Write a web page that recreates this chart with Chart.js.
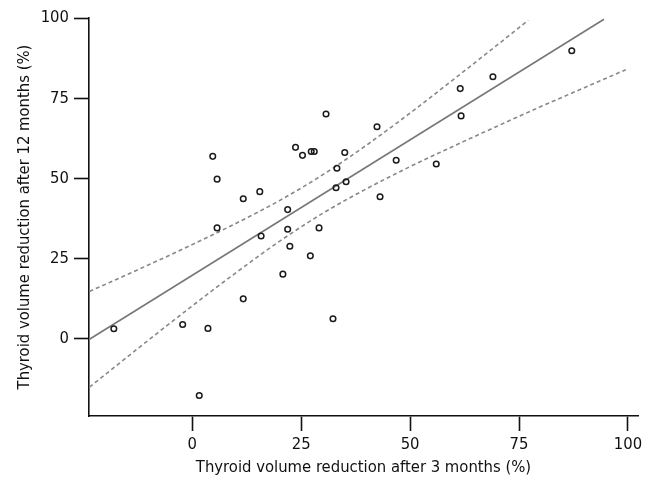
<!DOCTYPE html>
<html>
<head>
<meta charset="utf-8">
<script src="https://cdn.jsdelivr.net/npm/chart.js@4"></script>
<style>
  body { margin: 0; background: #fff; }
  #wrap { width: 653px; height: 481px; }
</style>
</head>
<body>
<div id="wrap"><canvas id="thyroid" width="653" height="481"></canvas></div>
<script>
// volume reduction after 3 months (x) and after 12 months (y), one pair per patient
const months3 = [-18.0, -2.2, 3.6, 1.6, 4.7, 5.7, 5.7, 11.7, 11.7, 15.5, 15.8, 20.8, 21.9, 21.9, 22.4, 23.7, 25.3, 27.3,
  28.0, 29.1, 27.1, 30.7, 32.3, 33.2, 33.0, 35.0, 35.3, 42.4, 43.1, 46.8, 56.0, 61.5, 61.7, 69.0, 87.1];
const months12 = [3.2, 4.5, 3.3, -17.6, 56.9, 49.8, 34.6, 43.7, 12.5, 45.9, 32.1, 20.2, 40.3, 34.2, 28.9, 59.7, 57.2, 58.4,
  58.4, 34.6, 25.9, 70.1, 6.3, 53.2, 47.1, 58.1, 49.0, 66.1, 44.3, 55.7, 54.5, 78.0, 69.5, 81.7, 89.8];

// regression line ends
const fitX = [-23.6, 94.5];
const fitY = [-0.1, 99.6];

// 95% confidence band
const upperX = [-23.6, -10, 0, 10, 20, 30, 40, 50, 60, 70, 77.1];
const upperY = [14.8, 23.1, 29.4, 36.0, 43.1, 51.2, 60.4, 70.4, 80.9, 91.6, 99.3];
const lowerX = [-23.6, -10, 0, 10, 20, 30, 40, 50, 60, 70, 80, 90, 99.5];
const lowerY = [-15.0, -0.3, 10.3, 20.6, 30.4, 39.2, 46.8, 53.7, 60.1, 66.3, 72.4, 78.3, 83.9];

const xTicks = [0, 25, 50, 75, 100];
const yTicks = [0, 25, 50, 75, 100];

const xTitle = 'Thyroid volume reduction after 3 months (%)';
const yTitle = 'Thyroid volume reduction after 12 months (%)';

const pairs = (xs, ys) => xs.map((x, i) => ({ x: x, y: ys[i] }));

const fontFam = "'Liberation Sans Narrow', 'DejaVu Sans Condensed', 'Arial Narrow', sans-serif";
const ink = '#111';

new Chart(document.getElementById('thyroid'), {
  type: 'scatter',
  data: {
    datasets: [
      {
        data: pairs(months3, months12),
        pointStyle: 'circle',
        pointRadius: 2.8,
        pointBorderWidth: 1.5,
        borderColor: '#1a1a1a',
        backgroundColor: 'rgba(0,0,0,0)'
      },
      {
        data: pairs(fitX, fitY),
        showLine: true,
        pointRadius: 0,
        borderColor: '#777',
        borderWidth: 1.6
      },
      {
        data: pairs(upperX, upperY),
        showLine: true,
        pointRadius: 0,
        borderColor: '#888',
        borderWidth: 1.6,
        borderDash: [4, 3],
        cubicInterpolationMode: 'monotone'
      },
      {
        data: pairs(lowerX, lowerY),
        showLine: true,
        pointRadius: 0,
        borderColor: '#888',
        borderWidth: 1.6,
        borderDash: [4, 3],
        cubicInterpolationMode: 'monotone'
      }
    ]
  },
  options: {
    responsive: false,
    animation: false,
    devicePixelRatio: 1,
    layout: { padding: { top: 18, right: 15, left: 0, bottom: 0 } },
    plugins: { legend: { display: false }, tooltip: { enabled: false } },
    scales: {
      x: {
        type: 'linear',
        min: -23.7,
        max: 102.3,
        border: { color: ink, width: 1.6 },
        grid: { drawOnChartArea: false, drawTicks: true, tickLength: 15, tickColor: ink, tickWidth: 1.6 },
        ticks: { color: ink, font: { family: fontFam, size: 16.5 }, padding: 4, maxRotation: 0 },
        afterBuildTicks: s => { s.ticks = xTicks.map(v => ({ value: v })); },
        afterFit: s => { s.height = 65; },
        title: { display: true, text: xTitle, color: ink, font: { family: fontFam, size: 16.5 }, padding: { top: 0, bottom: 3 } }
      },
      y: {
        type: 'linear',
        min: -24,
        max: 100,
        border: { color: ink, width: 1.6 },
        grid: { drawOnChartArea: false, drawTicks: true, tickLength: 15, tickColor: ink, tickWidth: 1.6 },
        ticks: { color: ink, font: { family: fontFam, size: 16.5 }, padding: 5 },
        afterBuildTicks: s => { s.ticks = yTicks.map(v => ({ value: v })); },
        afterFit: s => { s.width = 89; },
        title: { display: true, text: yTitle, color: ink, font: { family: fontFam, size: 16.5 }, padding: { top: 15, bottom: 0 } }
      }
    }
  }
});
</script>
</body>
</html>
